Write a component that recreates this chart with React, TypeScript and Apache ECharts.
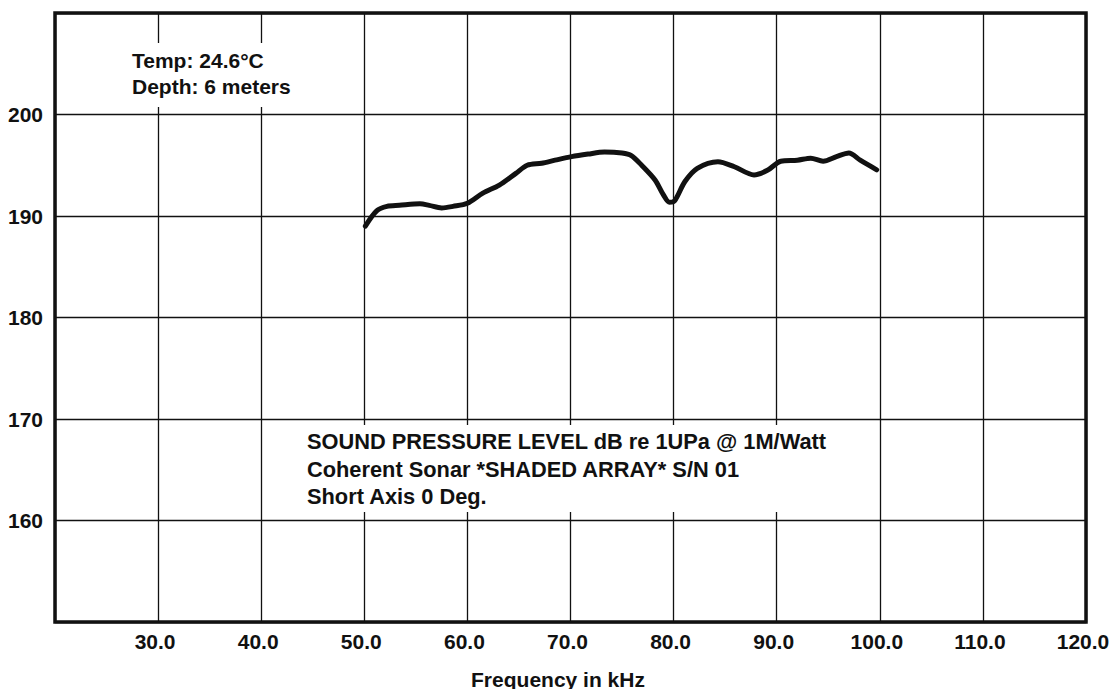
import React, { useEffect, useRef } from "react";
import * as echarts from "echarts";

// Frequency (kHz) and sound pressure level (dB re 1uPa @ 1M/Watt)
const freq = [
  50.1, 51.2, 52.2, 53.4, 55.4, 56.3, 57.5, 58.6, 60.0, 61.5, 63.1, 64.7, 65.8,
  67.2, 68.5, 70.1, 71.7, 73.3, 75.0, 75.9, 76.9, 78.2, 79.0, 79.6, 80.1, 81.1,
  82.3, 84.3, 85.9, 87.8, 89.1, 90.4, 92.0, 93.3, 94.5, 95.8, 97.0, 98.1, 99.7,
];
const spl = [
  189.0, 190.5, 190.95, 191.05, 191.2, 191.05, 190.8, 190.95, 191.25, 192.25,
  193.05, 194.2, 195.0, 195.2, 195.5, 195.85, 196.1, 196.3, 196.2, 195.95,
  195.0, 193.55, 192.1, 191.35, 191.5, 193.4, 194.7, 195.35, 194.85, 194.05,
  194.5, 195.4, 195.5, 195.7, 195.4, 195.85, 196.2, 195.5, 194.55,
];
const xTicks = [30, 40, 50, 60, 70, 80, 90, 100, 110, 120];
const yTicks = [160, 170, 180, 190, 200];
const infoLines = ["Temp: 24.6°C", "Depth: 6 meters"];
const captionLines = [
  "SOUND PRESSURE LEVEL dB re 1UPa @ 1M/Watt",
  "Coherent Sonar *SHADED ARRAY* S/N 01",
  "Short Axis 0 Deg.",
];
const xTitle = "Frequency in kHz";

const FONT = "'Liberation Sans', Arial, Helvetica, sans-serif";

export default function App() {
  const ref = useRef<HTMLDivElement>(null);
  useEffect(() => {
    if (!ref.current) return;
    const chart = echarts.init(ref.current, null, { renderer: "svg" });
    const textStyle = (text: string, x: number, y: number, align = "left", size = 21) => ({
      type: "text",
      z: 110,
      style: {
        text,
        x,
        y,
        fill: "#111",
        font: `bold ${size}px ${FONT}`,
        textAlign: align,
        textVerticalAlign: "middle",
      },
    });
    chart.setOption({
      animation: false,
      backgroundColor: "#fff",
      grid: {
        left: 55,
        right: 29,
        top: 13,
        bottom: 67,
        show: true,
        borderColor: "#111",
        borderWidth: 3.5,
        backgroundColor: "transparent",
        z: 3,
      },
      xAxis: {
        type: "value",
        min: 20,
        max: 120,
        interval: 10,
        axisLine: { show: false },
        axisTick: { show: false },
        splitLine: { show: true, lineStyle: { color: "#111", width: 1.3 } },
        axisLabel: {
          showMaxLabel: true,
          margin: 9,
          padding: [0, 6, 0, 0],
          color: "#111",
          fontFamily: FONT,
          fontWeight: "bold",
          fontSize: 21,
          formatter: (v: number) => (xTicks.includes(v) ? v.toFixed(1) : ""),
        },
      },
      yAxis: {
        type: "value",
        min: 150,
        max: 210,
        interval: 10,
        axisLine: { show: false },
        axisTick: { show: false },
        splitLine: { show: true, lineStyle: { color: "#111", width: 1.3 } },
        axisLabel: {
          margin: 12,
          padding: [6, 0, 0, 0],
          color: "#111",
          fontFamily: FONT,
          fontWeight: "bold",
          fontSize: 21,
          formatter: (v: number) => (yTicks.includes(v) ? String(v) : ""),
        },
      },
      series: [
        {
          type: "line",
          data: freq.map((f, i) => [f, spl[i]]),
          smooth: 0.3,
          showSymbol: false,
          lineStyle: { color: "#111", width: 5, cap: "round", join: "round" },
          z: 5,
        },
      ],
      graphic: [
        { type: "rect", z: 100, shape: { x: 120, y: 43, width: 180, height: 64 }, style: { fill: "#fff" } },
        { type: "rect", z: 100, shape: { x: 300, y: 425, width: 540, height: 87 }, style: { fill: "#fff" } },
        textStyle(infoLines[0], 132, 60),
        textStyle(infoLines[1], 132, 86.5),
        textStyle(captionLines[0], 307, 441.7, "left", 21.8),
        textStyle(captionLines[1], 307, 469, "left", 21.8),
        textStyle(captionLines[2], 307, 496, "left", 21.8),
        textStyle(xTitle, 558, 679, "center"),
      ],
    });
    return () => chart.dispose();
  }, []);
  return (
    <div
      ref={ref}
      style={{ position: "absolute", left: 0, top: 0, width: 1115, height: 689 }}
    />
  );
}
